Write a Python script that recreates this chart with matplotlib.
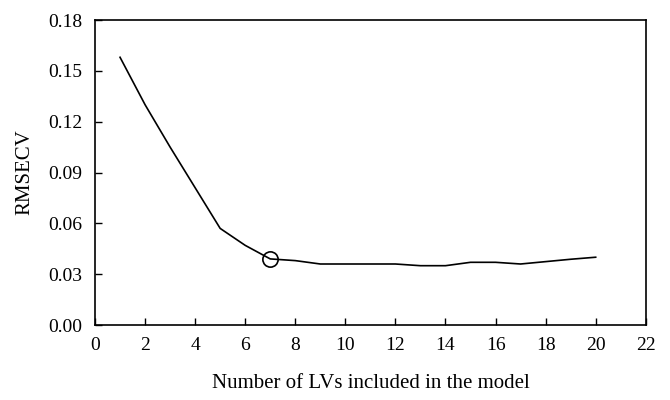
import matplotlib
matplotlib.use("Agg")
import matplotlib.pyplot as plt

n_lvs = list(range(1, 21))
rmsecv = [0.158, 0.130, 0.105, 0.081, 0.057, 0.047, 0.039, 0.038, 0.036, 0.036,
          0.036, 0.036, 0.035, 0.035, 0.037, 0.037, 0.036, 0.0374, 0.0388, 0.040]
best_lv = 7
best_val = 0.039

plt.rcParams['font.family'] = ['Liberation Serif', 'DejaVu Serif']

fig = plt.figure(figsize=(6.7, 4.0), dpi=100)
ax = fig.add_axes([0.1418, 0.1875, 0.822, 0.7625])
ax.plot(n_lvs, rmsecv, color='black', lw=1.2)
ax.plot([best_lv], [best_val], marker='o', ms=11, mfc='none', mec='black', mew=1.2)
ax.set_xlim(0, 22)
ax.set_ylim(0, 0.18)
ax.set_xticks(range(0, 23, 2))
ax.set_yticks([0.0, 0.03, 0.06, 0.09, 0.12, 0.15, 0.18])
ax.set_yticklabels(['0.00', '0.03', '0.06', '0.09', '0.12', '0.15', '0.18'])
ax.tick_params(direction='in', length=5, width=1, labelsize=14, colors='black')
ax.tick_params(axis='x', pad=9)
ax.tick_params(axis='y', pad=9)
for s in ax.spines.values():
    s.set_linewidth(1.2)
ax.set_xlabel('Number of LVs included in the model', fontsize=15, labelpad=14)
ax.set_ylabel('RMSECV', fontsize=15, labelpad=10)
fig.savefig('out.png', dpi=100)
